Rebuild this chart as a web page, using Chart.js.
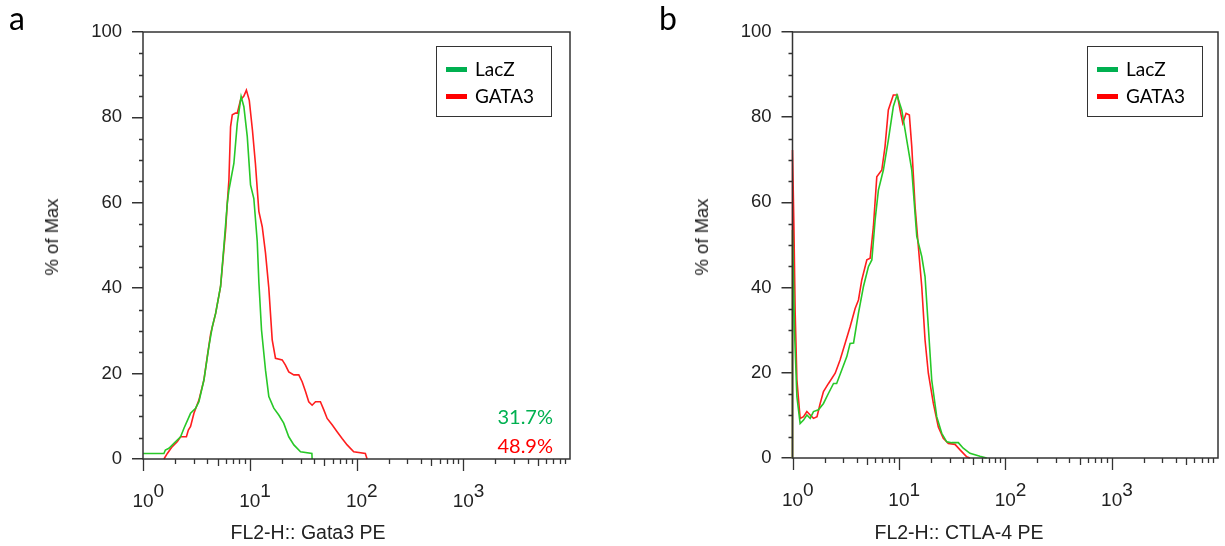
<!DOCTYPE html>
<html>
<head>
<meta charset="utf-8">
<script src="https://cdn.jsdelivr.net/npm/chart.js@4.4.1/dist/chart.umd.min.js"></script>
<style>
  body { margin: 0; background: #fff; }
  #fig { position: relative; width: 1225px; height: 546px; overflow: hidden; background: #fff; }
  canvas { position: absolute; top: 0; }
  .txt { position: absolute; white-space: nowrap; }
  .letter { font-family: Lato, sans-serif; font-size: 32px; line-height: 32px; top: 2px; color: #000; }
  .ytitle { font-family: 'Liberation Sans', Arial, sans-serif; font-size: 18.5px; line-height: 20px; color: #222;
            transform: translate(-50%, -50%) rotate(-90deg); }
  .xtitle { font-family: 'Liberation Sans', Arial, sans-serif; font-size: 19.5px; line-height: 20px; color: #222;
            top: 521.5px; transform: translateX(-50%); }
  .legend { position: absolute; top: 46px; width: 116px; height: 71px; box-sizing: border-box; border: 1.5px solid #333; }
  .legend .swatch { position: absolute; left: 9px; width: 21px; height: 5px; }
  .legend .name { position: absolute; left: 38px; font-family: Lato, sans-serif; font-size: 19px; line-height: 19px; color: #000; }
  .pct { font-family: Lato, sans-serif; font-size: 20px; line-height: 20px; transform: translateX(-100%); }
</style>
</head>
<body>
<div id="fig">
  <canvas id="chartA" width="612" height="546" style="left:0px"></canvas>
  <canvas id="chartB" width="575" height="546" style="left:650px"></canvas>

  <div class="txt letter" style="left:9px">a</div>
  <div class="txt letter" style="left:659px">b</div>

  <div class="txt ytitle" style="left:52px; top:237px">% of Max</div>
  <div class="txt ytitle" style="left:702px; top:237px">% of Max</div>
  <div class="txt xtitle" style="left:308px">FL2-H:: Gata3 PE</div>
  <div class="txt xtitle" style="left:959px">FL2-H:: CTLA-4 PE</div>

  <div class="legend" style="left:436px">
    <div class="swatch" style="top:20px; background:#00b050"></div>
    <div class="name" style="top:12px">LacZ</div>
    <div class="swatch" style="top:47px; background:#ff0000"></div>
    <div class="name" style="top:39px">GATA3</div>
  </div>
  <div class="legend" style="left:1087px">
    <div class="swatch" style="top:20px; background:#00b050"></div>
    <div class="name" style="top:12px">LacZ</div>
    <div class="swatch" style="top:47px; background:#ff0000"></div>
    <div class="name" style="top:39px">GATA3</div>
  </div>

  <div class="txt pct" style="left:553px; top:406px; color:#00b050">31.7%</div>
  <div class="txt pct" style="left:553px; top:435px; color:#ff0000">48.9%</div>
</div>

<script>
// panel a: FL2-H:: Gata3 PE
const gataLacZX = [1.0, 1.57, 1.62, 1.75, 1.95, 2.25, 2.42, 2.79, 3.11, 3.34, 3.72, 4.14, 4.46, 4.79, 5.33, 5.72,
    6.16, 6.38, 7.10, 7.64, 8.3, 8.81, 9.48, 10.17, 10.92, 11.75, 12.17, 12.89, 14.05, 15.09, 16.8, 18.7, 20.8,
    23.2, 25.9, 29.9, 38.2, 38.4];
const gataLacZY = [1.3, 1.3, 2.1, 2.5, 3.7, 5.2, 7.2, 10.7, 11.9, 13.4, 18.5, 26.3, 31.0, 34.1, 40.4, 49.7,
    59.9, 63.0, 69.2, 78.6, 84.9, 82.5, 75.5, 64.2, 61.0, 51.0, 41.5, 30.2, 20.8, 14.6, 11.9, 10.3, 8.4,
    5.2, 3.3, 1.7, 1.3, 0];
const gataGata3X = [1.57, 1.69, 1.88, 2.10, 2.25, 2.55, 2.66, 2.79, 3.0, 3.34, 3.72, 4.0, 4.31, 4.79, 5.33, 5.94,
    6.16, 6.38, 6.61, 6.86, 7.36, 7.64, 8.2, 8.81, 9.3, 9.9, 10.6, 11.3, 12.17, 13.09, 14.05, 15.09, 16.23, 17.42,
    20.14, 21.6, 23.2, 25.9, 28.8, 30.97, 33.3, 35.7, 38.4, 41.3, 45.9, 49.4, 53.1, 59.1, 65.8, 73.3, 81.7, 94.2,
    121, 125.7];
const gataGata3Y = [0, 1.3, 2.9, 4.1, 5.2, 5.2, 6.8, 7.6, 10.7, 13.8, 18.5, 24.0, 29.4, 34.1, 40.4, 53.6,
    59.9, 65.3, 77.8, 80.6, 81.0, 81.0, 84.1, 85.0, 86.4, 84.0, 77.0, 69.2, 58.0, 54.4, 48.2, 40.0, 27.9, 23.6,
    23.2, 22.0, 20.4, 19.7, 19.7, 18.1, 15.8, 13.4, 12.6, 13.4, 13.4, 11.5, 9.5, 8.0, 6.4, 4.8, 3.3, 1.7,
    1.3, 0];

// panel b: FL2-H:: CTLA-4 PE
const ctlaLacZX = [1, 1, 1.044, 1.10, 1.18, 1.27, 1.365, 1.466, 1.575, 1.755, 1.955, 2.18, 2.43, 2.6, 2.91, 3.24,
    3.48, 3.75, 4.17, 4.64, 5.17, 5.57, 5.98, 6.42, 7.15, 7.96, 8.87, 9.6, 10.64, 11.86, 13.22, 14.73, 16.41,
    17.62, 18.92, 20.36, 22.69, 25.3, 28.17, 31.4, 36.2, 40.3, 46.6, 57.8, 66.9];
const ctlaLacZY = [0, 53.5, 30, 14.4, 8.1, 8.9, 10.1, 9.3, 10.9, 11.3, 12.8, 15.2, 17.5, 17.5, 20.7, 23.8,
    26.9, 27.0, 34, 40.2, 44.9, 46.5, 55.9, 62.9, 67.6, 74.6, 82.5, 85.2, 81.7, 74.6, 67.6, 52, 47.3,
    42.6, 30.8, 18.3, 9.7, 5.8, 3.8, 3.6, 3.6, 2.3, 1.1, 0.4, 0];
const ctlaGata3X = [1, 1, 1.03, 1.06, 1.10, 1.18, 1.27, 1.365, 1.466, 1.575, 1.70, 1.82, 1.955, 2.18, 2.52, 2.80,
    3.12, 3.48, 3.88, 4.17, 4.48, 5.0, 5.37, 5.76, 6.20, 6.91, 7.41, 7.96, 8.87, 9.68, 10.3, 10.88, 11.69, 12.55,
    13.22, 14.2, 15.25, 16.41, 17.62, 18.92, 21.09, 23.49, 26.17, 29.17, 33.7, 37.6, 43.4, 46.6];
const ctlaGata3Y = [0, 72.3, 55, 34, 18.3, 9.3, 9.7, 10.9, 10.1, 9.3, 9.7, 12.8, 15.6, 17.5, 19.9, 23,
    26.9, 30.8, 35.1, 37.1, 41.8, 46.5, 46.9, 54.3, 66, 67.6, 73.1, 81.7, 85.2, 85.2, 81.5, 78.6, 80.9, 80.5,
    73.1, 59, 49.6, 40.2, 27.7, 19.9, 12.8, 7.3, 4.6, 3.4, 3.2, 1.9, 0.3, 0];

const seriesNames = ['LacZ', 'GATA3'];

// axis ticks
const yTickStep = 20;
const yMinorTicks = [5, 10, 15, 25, 30, 35, 45, 50, 55, 65, 70, 75, 85, 90, 95];
const xDecades = [1, 10, 100, 1000];
const xSignificands = [1, 2, 3, 4, 5, 6, 7, 8, 9];
const xTickValues = [1, 10, 100, 1000];
const xTickExponents = ['0', '1', '2', '3'];

const lacZColor = 'rgb(40, 200, 40)';
const gata3Color = 'rgb(255, 30, 30)';
const axisColor = '#333333';
const tickFont = '"Liberation Sans", Arial, sans-serif';

function toPoints(xs, ys) {
    return xs.map((x, i) => ({x: x, y: ys[i]}));
}

// frame, minor ticks and the 10^n labels, all placed through the chart's scales
const flowAxes = {
    id: 'flowAxes',
    afterDraw(chart) {
        const ctx = chart.ctx;
        const area = chart.chartArea;
        const xs = chart.scales.x;
        const ys = chart.scales.y;
        ctx.save();
        ctx.strokeStyle = axisColor;
        ctx.lineWidth = 1.5;
        ctx.strokeRect(area.left, area.top, area.right - area.left, area.bottom - area.top);

        ctx.lineWidth = 1.3;
        ctx.beginPath();
        yMinorTicks.forEach(v => {
            const py = Math.round(ys.getPixelForValue(v)) + 0.5;
            ctx.moveTo(area.left - 4, py);
            ctx.lineTo(area.left, py);
        });
        xDecades.forEach(d => {
            xSignificands.forEach(s => {
                const px = Math.round(xs.getPixelForValue(d * s)) + 0.5;
                const len = s === 1 ? 12 : (s === 5 ? 7 : 5);
                ctx.moveTo(px, area.bottom);
                ctx.lineTo(px, area.bottom + len);
            });
        });
        ctx.stroke();

        ctx.fillStyle = '#222';
        ctx.font = '19px ' + tickFont;
        ctx.textBaseline = 'alphabetic';
        xTickValues.forEach((v, i) => {
            const px = xs.getPixelForValue(v);
            const w = ctx.measureText('10').width;
            ctx.textAlign = 'center';
            ctx.fillText('10', px, area.bottom + 48);
            ctx.textAlign = 'left';
            ctx.fillText(xTickExponents[i], px + w / 2, area.bottom + 38);
        });
        ctx.restore();
    }
};

function makePanel(canvasId, lacZ, gata3, opts) {
    const ctx = document.getElementById(canvasId).getContext('2d');
    return new Chart(ctx, {
        type: 'scatter',
        data: {
            datasets: [
                {
                    label: seriesNames[0],
                    data: lacZ,
                    showLine: true,
                    borderColor: lacZColor,
                    backgroundColor: lacZColor,
                    borderWidth: 1.6,
                    pointRadius: 0,
                    clip: 3
                },
                {
                    label: seriesNames[1],
                    data: gata3,
                    showLine: true,
                    borderColor: gata3Color,
                    backgroundColor: gata3Color,
                    borderWidth: 1.6,
                    pointRadius: 0,
                    clip: 3
                }
            ]
        },
        options: {
            responsive: false,
            animation: false,
            devicePixelRatio: 1,
            layout: {padding: {top: 32, right: opts.padRight, bottom: 0, left: 0}},
            plugins: {legend: {display: false}, tooltip: {enabled: false}},
            scales: {
                x: {
                    type: 'logarithmic',
                    min: 1,
                    max: 10000,
                    ticks: {display: false},
                    grid: {display: false},
                    border: {display: false},
                    afterFit: s => { s.height = opts.xHeight; }
                },
                y: {
                    min: 0,
                    max: 100,
                    ticks: {
                        stepSize: yTickStep,
                        padding: 10,
                        color: '#222',
                        font: {family: tickFont, size: 18.5}
                    },
                    grid: {
                        drawOnChartArea: false,
                        tickLength: 11,
                        tickColor: axisColor,
                        lineWidth: 1.5
                    },
                    border: {display: false},
                    afterFit: s => { s.width = opts.yWidth; }
                }
            }
        },
        plugins: [flowAxes]
    });
}

makePanel('chartA', toPoints(gataLacZX, gataLacZY), toPoints(gataGata3X, gataGata3Y),
    {padRight: 42, xHeight: 87, yWidth: 143});
makePanel('chartB', toPoints(ctlaLacZX, ctlaLacZY), toPoints(ctlaGata3X, ctlaGata3Y),
    {padRight: 7, xHeight: 88, yWidth: 142.5});
</script>
</body>
</html>
